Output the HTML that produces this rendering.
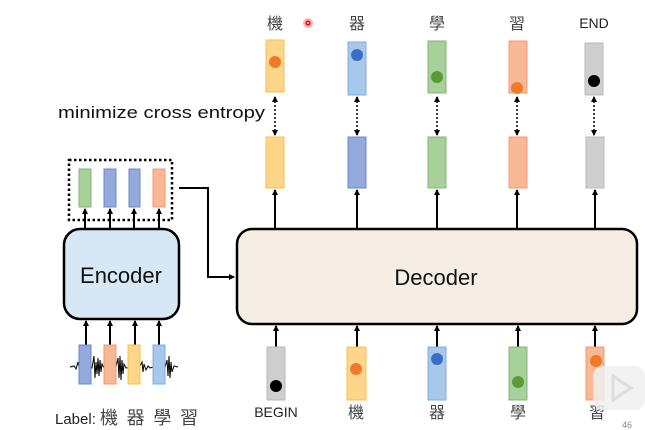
<!DOCTYPE html>
<html><head><meta charset="utf-8"><style>
html,body{margin:0;padding:0;background:#fff}
svg{display:block}
text{font-family:"Liberation Sans","Noto Sans CJK TC",sans-serif}
</style></head><body>
<svg width="645" height="430" viewBox="0 0 645 430" xmlns="http://www.w3.org/2000/svg">
<defs>
<marker id="a" markerWidth="6" markerHeight="6" refX="5" refY="3" orient="auto" markerUnits="userSpaceOnUse"><path d="M0,0 L6,3 L0,6 z" fill="#000"/></marker>
<marker id="b" markerWidth="6" markerHeight="6" refX="1" refY="3" orient="auto" markerUnits="userSpaceOnUse"><path d="M6,0 L0,3 L6,6 z" fill="#000"/></marker>
</defs>
<rect width="645" height="430" fill="#fff"/>
<g font-size="16" fill="#444" text-anchor="middle">
<text x="275" y="29">機</text><text x="357" y="29">器</text><text x="437" y="29">學</text><text x="517" y="29">習</text>
<text x="594" y="28" font-size="14" fill="#222">END</text>
</g>
<circle cx="308" cy="23" r="5" fill="#f66" opacity="0.5"/><circle cx="308" cy="23" r="2.5" fill="#e00"/><circle cx="308" cy="23" r="1" fill="#fff"/>
<rect x="266" y="40" width="18" height="52" fill="#fdd68a" stroke="#f5c050"/>
<rect x="348" y="42" width="18" height="53" fill="#a8c8ea" stroke="#80aee0"/>
<rect x="428" y="41" width="18" height="52" fill="#a8d09a" stroke="#80b870"/>
<rect x="509" y="41" width="18" height="52" fill="#f8b896" stroke="#f09a70"/>
<rect x="585" y="43" width="18" height="52" fill="#cfcfcf" stroke="#b8b8b8"/>
<circle cx="275" cy="62" r="6" fill="#f07a2a"/>
<circle cx="357" cy="55" r="6" fill="#3a6ccc"/>
<circle cx="437" cy="77" r="6" fill="#5a9a3a"/>
<circle cx="517" cy="88" r="6" fill="#f07a2a"/>
<circle cx="594" cy="81" r="6" fill="#000"/>
<g stroke="#000" stroke-width="1.5" stroke-dasharray="2,2" marker-start="url(#b)" marker-end="url(#a)">
<line x1="275" y1="97" x2="275" y2="135"/><line x1="357" y1="97" x2="357" y2="135"/><line x1="437" y1="97" x2="437" y2="135"/><line x1="517" y1="97" x2="517" y2="135"/><line x1="594" y1="97" x2="594" y2="135"/>
</g>
<text x="58" y="118" font-size="17" fill="#111" textLength="207" lengthAdjust="spacingAndGlyphs">minimize cross entropy</text>
<rect x="266" y="137" width="18" height="51" fill="#fdd68a" stroke="#f5c050"/>
<rect x="348" y="137" width="18" height="51" fill="#94aadc" stroke="#6c88c8"/>
<rect x="428" y="137" width="18" height="51" fill="#a8d09a" stroke="#80b870"/>
<rect x="509" y="137" width="18" height="51" fill="#f8b896" stroke="#f09a70"/>
<rect x="586" y="137" width="18" height="51" fill="#cfcfcf" stroke="#b8b8b8"/>
<g stroke="#000" stroke-width="2" marker-end="url(#a)">
<line x1="275" y1="228" x2="275" y2="190"/><line x1="357" y1="228" x2="357" y2="190"/><line x1="437" y1="228" x2="437" y2="190"/><line x1="517" y1="228" x2="517" y2="190"/><line x1="595" y1="228" x2="595" y2="190"/>
</g>
<rect x="237" y="229" width="400" height="95" rx="15" fill="#f6eee4" stroke="#000" stroke-width="2.5"/>
<text x="436" y="285" font-size="22" text-anchor="middle" fill="#111">Decoder</text>
<g stroke="#000" stroke-width="2" marker-end="url(#a)">
<line x1="276" y1="347" x2="276" y2="326"/><line x1="357" y1="347" x2="357" y2="326"/><line x1="437" y1="347" x2="437" y2="326"/><line x1="518" y1="347" x2="518" y2="326"/><line x1="595" y1="347" x2="595" y2="326"/>
</g>
<rect x="267" y="347" width="18" height="53" fill="#cfcfcf" stroke="#b8b8b8"/>
<rect x="347" y="347" width="19" height="53" fill="#fdd68a" stroke="#f5c050"/>
<rect x="428" y="347" width="18" height="53" fill="#a8c8ea" stroke="#80aee0"/>
<rect x="509" y="347" width="18" height="53" fill="#a8d09a" stroke="#80b870"/>
<rect x="586" y="347" width="18" height="53" fill="#f8b896" stroke="#f09a70"/>
<circle cx="276" cy="386" r="6" fill="#000"/>
<circle cx="356" cy="369" r="6" fill="#f07a2a"/>
<circle cx="437" cy="359" r="6" fill="#3a6ccc"/>
<circle cx="518" cy="382" r="6" fill="#5a9a3a"/>
<circle cx="596" cy="361" r="6" fill="#f07a2a"/>
<g font-size="16" fill="#444" text-anchor="middle">
<text x="276" y="417" font-size="14" fill="#222">BEGIN</text>
<text x="356" y="418">機</text><text x="437" y="418">器</text><text x="518" y="418">學</text><text x="597" y="418">習</text>
</g>
<rect x="593" y="366" width="52" height="44" rx="10" fill="#f0f0f0" opacity="0.85"/>
<path d="M613,376 L613,400 L631,388 z" fill="none" stroke="#ddd" stroke-width="3"/>
<text x="627" y="428" font-size="9" fill="#888" text-anchor="middle">46</text>
<rect x="69" y="160" width="103" height="60" fill="none" stroke="#000" stroke-width="2.5" stroke-dasharray="2.5,2.5"/>
<rect x="79" y="169" width="12" height="38" fill="#a8d09a" stroke="#80b870"/>
<rect x="104" y="169" width="12" height="38" fill="#94aadc" stroke="#6c88c8"/>
<rect x="129" y="169" width="11" height="38" fill="#94aadc" stroke="#6c88c8"/>
<rect x="153" y="169" width="12" height="38" fill="#f8b896" stroke="#f09a70"/>
<g stroke="#000" stroke-width="2" marker-end="url(#a)">
<line x1="85" y1="229" x2="85" y2="209"/><line x1="110" y1="229" x2="110" y2="209"/><line x1="134" y1="229" x2="134" y2="209"/><line x1="159" y1="229" x2="159" y2="209"/>
</g>
<polyline points="179,188 208,188 208,277 234,277" fill="none" stroke="#000" stroke-width="2" marker-end="url(#a)"/>
<rect x="64" y="229" width="115" height="90" rx="16" fill="#d6e7f6" stroke="#000" stroke-width="2.5"/>
<text x="121" y="283" font-size="22" text-anchor="middle" fill="#111">Encoder</text>
<g stroke="#000" stroke-width="2" marker-end="url(#a)">
<line x1="86" y1="345" x2="86" y2="321"/><line x1="110" y1="345" x2="110" y2="321"/><line x1="135" y1="345" x2="135" y2="321"/><line x1="159" y1="345" x2="159" y2="321"/>
</g>
<polyline fill="none" stroke="#000" stroke-width="1" points="70,367 74,366 76,369 78,362 80,372 82,365 92,368 94,356 95,378 96,362 97,374 98,358 99,376 100,360 101,372 102,364 104,368 116,367 118,358 119,378 120,356 121,380 122,360 123,374 124,364 126,368 140,366 142,362 143,372 144,364 146,370 148,366 150,368 153,367 165,368 167,360 168,376 169,356 170,378 171,362 172,372 174,366 178,367"/>
<rect x="79" y="345" width="12" height="39" fill="#94aadc" stroke="#6c88c8"/>
<rect x="104" y="345" width="12" height="39" fill="#f8b896" stroke="#f09a70"/>
<rect x="128" y="345" width="12" height="39" fill="#fdd68a" stroke="#f5c050"/>
<rect x="153" y="345" width="12" height="39" fill="#a8c8ea" stroke="#80aee0"/>
<text x="55" y="424" font-size="15" fill="#222">Label:</text>
<text x="100" y="424" font-size="18" fill="#444" textLength="98">機 器 學 習</text>
</svg>
</body></html>
